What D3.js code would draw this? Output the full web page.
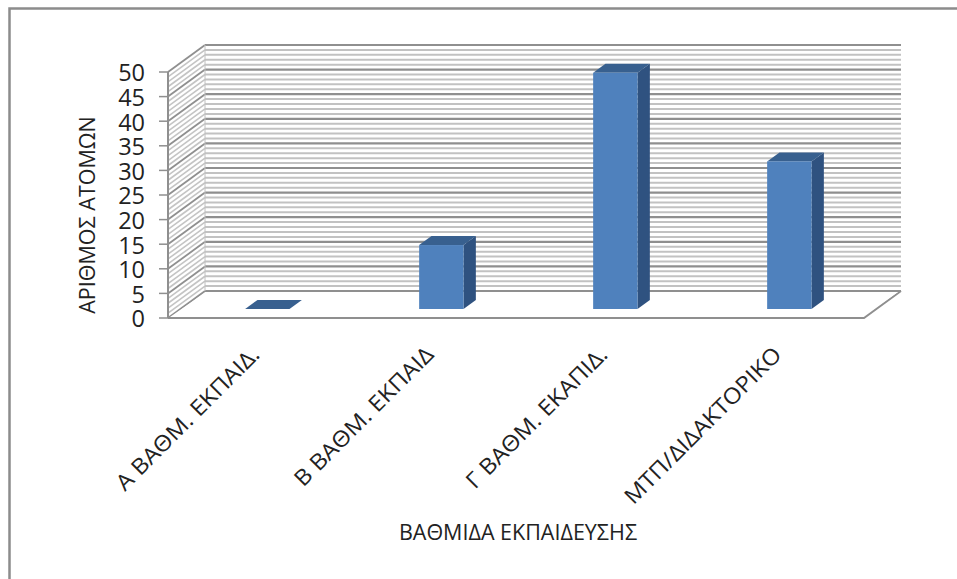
<!DOCTYPE html>
<html>
<head>
<meta charset="utf-8">
<script src="https://cdn.jsdelivr.net/npm/d3@7/dist/d3.min.js"></script>
<style>
html, body { margin: 0; padding: 0; background: #fff; }
svg { display: block; }
text { font-family: "Open Sans", "Noto Sans", sans-serif; fill: #222; }
</style>
</head>
<body>
<svg id="chart" width="957" height="579"></svg>
<script>
// Survey respondents by level of education
const categories = ["Α ΒΑΘΜ. ΕΚΠΑΙΔ.", "Β ΒΑΘΜ. ΕΚΠΑΙΔ", "Γ ΒΑΘΜ. ΕΚΑΠΙΔ.", "ΜΤΠ/ΔΙΔΑΚΤΟΡΙΚΟ"];
const values = [0, 13, 48, 30];
const yTicks = [0, 5, 10, 15, 20, 25, 30, 35, 40, 45, 50];
const minorTicks = d3.range(0, 51);
const yTitle = "ΑΡΙΘΜΟΣ ΑΤΟΜΩΝ";
const xTitle = "ΒΑΘΜΙΔΑ ΕΚΠΑΙΔΕΥΣΗΣ";

const svg = d3.select("#chart");

const x = d3.scaleBand().domain(categories).range([168, 864]).paddingInner(0.745).paddingOuter(0.3725);
const y = d3.scaleLinear().domain([0, 50]).range([318, 72]);

// Oblique projection: depth 0 is the front plane, depth 1 the back wall
const depthX = d3.scaleLinear().domain([0, 1]).range([0, 37]);
const depthY = d3.scaleLinear().domain([0, 1]).range([0, -27]);
const px = (vx, d) => vx + depthX(d);
const py = (vy, d) => vy + depthY(d);
const poly = pts => pts.map(p => p.join(",")).join(" ");

// Frame: only the top and left edges are visible
svg.append("polyline").attr("fill", "none").attr("stroke", "#8c8c8c")
  .attr("points", poly([[9.5, 579], [9.5, 8.5], [957, 8.5]]))
  .attr("stroke-width", 2.5);

const xL = x.range()[0], xR = x.range()[1];

// Back wall and side wall gridlines
const grid = svg.append("g");
const isMajor = t => t % 5 === 0;
minorTicks.forEach(t => {
  grid.append("line")
    .attr("x1", px(xL, 1)).attr("x2", px(xR, 1))
    .attr("y1", py(y(t), 1)).attr("y2", py(y(t), 1))
    .attr("stroke", isMajor(t) ? "#8f8f8f" : "#c2c2c2")
    .attr("stroke-width", isMajor(t) ? 2.2 : 2);
  grid.append("line")
    .attr("x1", px(xL, 0)).attr("x2", px(xL, 1))
    .attr("y1", py(y(t), 0)).attr("y2", py(y(t), 1))
    .attr("stroke", isMajor(t) ? "#8f8f8f" : "#c4c4c4")
    .attr("stroke-width", isMajor(t) ? 1.8 : 1.6);
});

// Side wall edges and floor outline
const edge = svg.append("g").attr("fill", "none").attr("stroke", "#8f8f8f");
edge.append("line").attr("x1", px(xL, 1)).attr("x2", px(xL, 1))
  .attr("y1", py(y(50), 1)).attr("y2", py(y(0), 1)).attr("stroke", "#c0c0c0");
edge.append("line").attr("x1", xL).attr("x2", xL).attr("y1", y(50)).attr("y2", y(0)).attr("stroke-width", 2);
edge.append("polyline").attr("stroke-width", 2).attr("points", poly([
  [xL, y(0)], [xR, y(0)], [px(xR, 1), py(y(0), 1)]
]));
svg.append("polygon").attr("fill", "#fff").attr("points", poly([
  [xL + 2, y(0) - 1], [xR - 2, y(0) - 1], [px(xR, 1) - 3, py(y(0), 1) + 1], [px(xL, 1) + 1, py(y(0), 1) + 1]
]));

// Three-dimensional bars
const bars = svg.append("g");
const dFront = 1 / 3, dBack = 2 / 3;
categories.forEach((c, i) => {
  const l = x(c), r = l + x.bandwidth(), top = y(values[i]), base = y(0);
  bars.append("polygon").attr("fill", "#2f5280").attr("points", poly([
    [px(r, dFront), py(top, dFront)], [px(r, dBack), py(top, dBack)],
    [px(r, dBack), py(base, dBack)], [px(r, dFront), py(base, dFront)]
  ]));
  bars.append("polygon").attr("fill", "#38608f").attr("points", poly([
    [px(l, dFront), py(top, dFront)], [px(r, dFront), py(top, dFront)],
    [px(r, dBack), py(top, dBack)], [px(l, dBack), py(top, dBack)]
  ]));
  bars.append("rect").attr("fill", "#4f81bd")
    .attr("x", px(l, dFront)).attr("width", x.bandwidth())
    .attr("y", py(top, dFront)).attr("height", base - top);
});

// Value axis
const yAxis = svg.append("g");
yTicks.forEach(t => {
  yAxis.append("line").attr("x1", 159).attr("x2", xL)
    .attr("y1", y(t)).attr("y2", y(t)).attr("stroke", "#8f8f8f").attr("stroke-width", 1.5);
  yAxis.append("text").attr("x", 145).attr("y", y(t) + 1).attr("dy", "0.36em")
    .attr("text-anchor", "end").attr("font-size", 23.5)
    .text(t);
});

// Category labels, rotated 45 degrees and slightly widened along the baseline
categories.forEach(c => {
  const cx = x(c) + x.bandwidth() / 2 + 6;
  svg.append("text")
    .attr("transform", `translate(${cx},356) rotate(-45) scale(1.09,1)`)
    .attr("text-anchor", "end").attr("font-size", 22)
    .text(c);
});

// Axis titles
svg.append("text").attr("transform", "translate(95,215) rotate(-90)")
  .attr("text-anchor", "middle").attr("font-size", 21.5).text(yTitle);
svg.append("text").attr("x", 518).attr("y", 540)
  .attr("text-anchor", "middle").attr("font-size", 21.5).text(xTitle);
</script>
</body>
</html>
